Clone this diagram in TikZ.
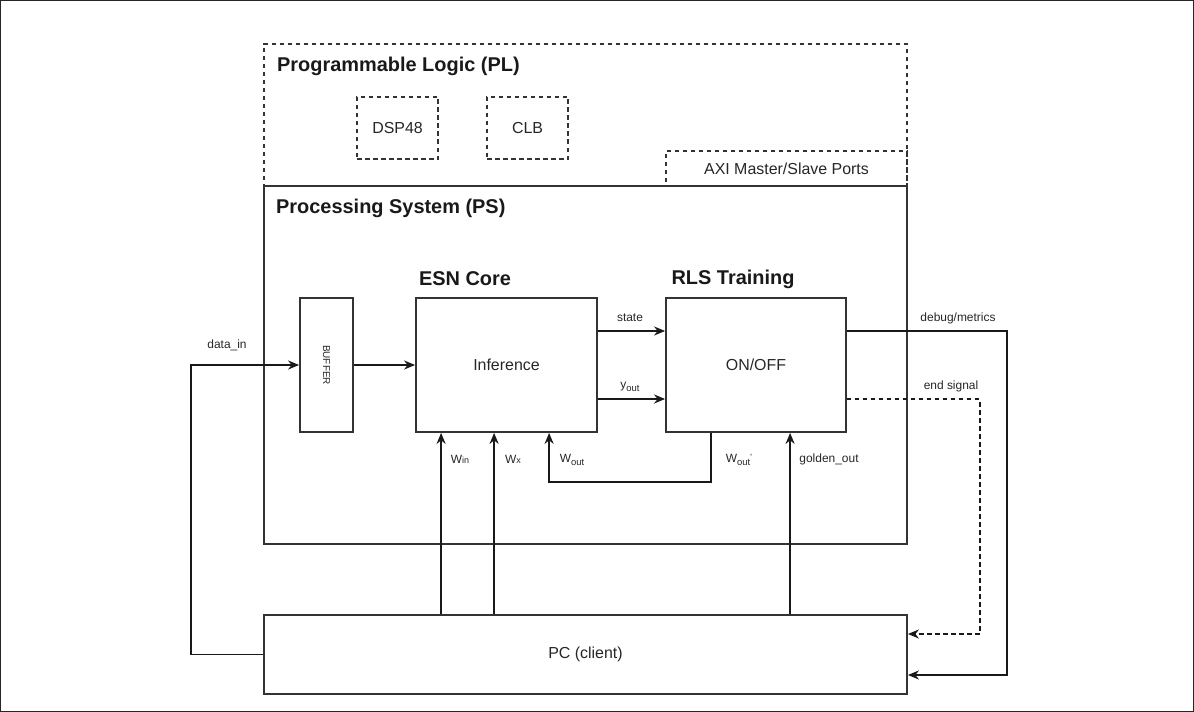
\documentclass[tikz,border=0pt]{standalone}
\usepackage{fontspec}
\setmainfont{Liberation Sans}
\usetikzlibrary{arrows.meta, positioning, calc}

\newcommand{\lowtxt}[1]{\raisebox{-0.45ex}{\fontsize{9.5}{10}\selectfont #1}}
\newcommand{\smalltxt}[1]{{\fontsize{9}{10}\selectfont #1}}

\begin{document}
\begin{tikzpicture}[x=1bp, y=-1bp,
    blk/.style={rectangle, draw=black!80, line width=1.8bp, inner sep=0pt,
                font=\fontsize{16}{19}\selectfont, text=black!85},
    dblk/.style={blk, dash pattern=on 4.5bp off 3.5bp},
    ttl/.style={font=\fontsize{20}{24}\selectfont\bfseries, text=black!90, inner sep=0pt},
    lbl/.style={font=\fontsize{12}{14}\selectfont, text=black!85, inner sep=0pt},
    arr/.style={-{Stealth[length=11bp, width=9bp]}, line width=1.8bp, draw=black!90},
]
\useasboundingbox (0,0) rectangle (1194,712);
\draw[black!85, line width=1.5bp] (0.75,0.75) rectangle (1193.25,711.25);

% PS part
\node[blk, minimum width=643bp, minimum height=358bp] (ps) at (585.5,365) {};
\node[ttl, anchor=west] (pstitle) at (276,208) {Processing System (PS)};

% PL part
\node[dblk, minimum width=643bp, minimum height=142bp] (pl) at (585.5,115) {};
\node[ttl, anchor=west] (pltitle) at (277,66) {Programmable Logic (PL)};
\node[dblk, minimum width=81bp, minimum height=62bp] (dsp) at (397.5,128) {DSP48};
\node[dblk, minimum width=81bp, minimum height=62bp] (clb) at (527.5,128) {CLB};
\node[dblk, minimum width=241bp, minimum height=35bp] (axi) at (786.5,168.5) {AXI Master/Slave Ports};

\node[blk, minimum width=53bp, minimum height=134bp] (buffer) at (326.5,365) {};
\node[lbl, rotate=-90, font=\fontsize{10}{12}\selectfont] at (buffer) {BUFFER};
\node[blk, minimum width=181bp, minimum height=134bp] (esn) at (506.5,365) {Inference};
\node[blk, minimum width=180bp, minimum height=134bp] (rls) at (756,365) {ON/OFF};
\node[ttl] (esntitle) at (465,279) {ESN Core};
\node[ttl] (rlstitle) at (733,279) {RLS Training};

% PC
\node[blk, minimum width=643bp, minimum height=79bp] (pc) at (585.5,654.5) {PC (client)};

% tap points
\coordinate (win) at ([xshift=26bp]esn.south west);
\coordinate (wx) at ([xshift=79bp]esn.south west);
\coordinate (woutin) at ([xshift=134bp]esn.south west);
\coordinate (woutsrc) at ([xshift=46bp]rls.south west);
\coordinate (golden) at ([xshift=125bp]rls.south west);

\draw[arr] (buffer) -- (esn);
\draw[arr] ([yshift=34bp]esn.east) -- ([yshift=34bp]rls.west);
\draw[arr] ([yshift=-34bp]esn.east) -- ([yshift=-34bp]rls.west);
\draw[arr] (pc.north -| win) -- (win);
\draw[arr] (pc.north -| wx) -- (wx);
\draw[arr] (woutsrc) -- ++(0,49) -| (woutin);
\draw[arr] (pc.north -| golden) -- (golden);
\draw[arr] (pc.west) -- ++(-72,0) |- (buffer.west);
\draw[arr] ([yshift=34bp]rls.east) -- ++(160,0) |- ([yshift=-20.5bp]pc.east);
\draw[arr, dash pattern=on 4.5bp off 3.5bp] ([yshift=-34bp]rls.east) -- ++(133,0) |- ([yshift=20.5bp]pc.east);

% labels
\node[lbl] (lstate) at (630,318) {state};
\node[lbl] (lyout) at (630,387) {y\lowtxt{out}};
\node[lbl] (ldebug) at (958,318) {debug/metrics};
\node[lbl] (lend) at (951,386) {end signal};
\node[lbl] (ldata) at (227,345) {data\_in};
\node[lbl] (lwin) at (460,459) {W\smalltxt{in}};
\node[lbl] (lwx) at (513,459) {W\smalltxt{x}};
\node[lbl] (lwout) at (572,460) {W\lowtxt{out}};
\node[lbl] (lwoutp) at (739,460) {W\lowtxt{out}\raisebox{0.3ex}{\fontsize{9}{10}\selectfont '}};
\node[lbl] (lgolden) at (829,459) {golden\_out};

\end{tikzpicture}
\end{document}
